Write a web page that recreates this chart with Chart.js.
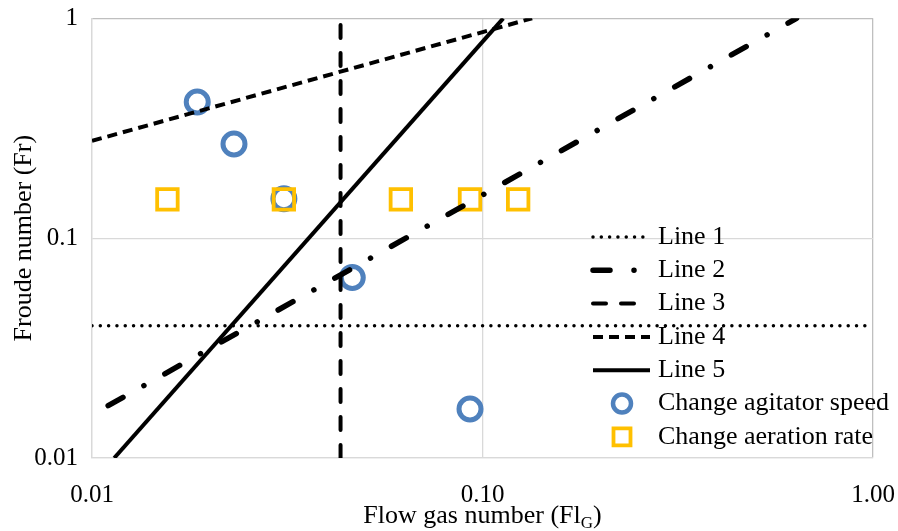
<!DOCTYPE html>
<html>
<head>
<meta charset="utf-8">
<script src="https://cdn.jsdelivr.net/npm/chart.js@4.4.1/dist/chart.umd.min.js"></script>
<style>
  html, body { margin: 0; padding: 0; background: #fff; }
  #wrap { width: 898px; height: 531px; }
</style>
</head>
<body>
<div id="wrap"><canvas id="frChart" width="898" height="531"></canvas></div>
<script>
// limit lines, end points only (Fl_G, Fr)
const line1Fl = [0.01, 1.0];
const line1Fr = [0.04, 0.04];
const line2Fl = [0.011, 0.637];
const line2Fr = [0.0173, 1.0];
const line3Fl = [0.0433, 0.0433];
const line3Fr = [0.01, 1.0];
const line4Fl = [0.01, 0.134];
const line4Fr = [0.277, 1.0];
const line5Fl = [0.0114, 0.113];
const line5Fr = [0.01, 1.0];

// measurements
const agitatorFl = [0.0186, 0.0231, 0.031, 0.0464, 0.0929];
const agitatorFr = [0.416, 0.268, 0.151, 0.0662, 0.0167];
const aerationFl = [0.0156, 0.031, 0.0618, 0.0929, 0.1234];
const aerationFr = [0.15, 0.15, 0.15, 0.15, 0.15];

const seriesNames = ['Line 1', 'Line 2', 'Line 3', 'Line 4', 'Line 5',
                     'Change agitator speed', 'Change aeration rate'];

const xTicks = [0.01, 0.1, 1];
const xTickLabels = ['0.01', '0.10', '1.00'];
const yTicks = [0.01, 0.1, 1];
const yTickLabels = ['0.01', '0.1', '1'];

const FONT = '"Liberation Serif", "Times New Roman", serif';
Chart.defaults.font.family = FONT;
Chart.defaults.color = '#000';

function pts(xs, ys) {
    return xs.map((x, i) => ({ x: x, y: ys[i] }));
}

function refLine(label, xs, ys, width, dash, cap) {
    return {
        label: label,
        data: pts(xs, ys),
        showLine: true,
        borderColor: '#000',
        borderWidth: width,
        borderDash: dash,
        borderCapStyle: cap,
        pointRadius: 0,
        pointHoverRadius: 0,
        fill: false,
        order: 0
    };
}

// legend drawn inside the plot, lower right
const insideLegend = {
    id: 'insideLegend',
    afterDraw(chart) {
        const ctx = chart.ctx;
        const x0 = 593, x1 = 650, mx = 622, tx = 658, y0 = 237, step = 33.3;
        ctx.save();
        ctx.font = '26px ' + FONT;
        ctx.textBaseline = 'middle';
        chart.data.datasets.forEach((ds, i) => {
            const y = y0 + i * step;
            ctx.beginPath();
            if (ds.showLine) {
                ctx.setLineDash(ds.borderDash || []);
                ctx.lineWidth = ds.borderWidth;
                ctx.lineCap = ds.borderCapStyle || 'butt';
                ctx.strokeStyle = ds.borderColor;
                ctx.moveTo(x0, y);
                ctx.lineTo(i === 2 ? 640 : x1, y);
                ctx.stroke();
            } else if (ds.pointStyle === 'circle') {
                ctx.setLineDash([]);
                ctx.lineWidth = 4.5;
                ctx.strokeStyle = ds.borderColor;
                ctx.arc(mx, y, 9, 0, Math.PI * 2);
                ctx.stroke();
            } else {
                ctx.setLineDash([]);
                ctx.lineWidth = 3.8;
                ctx.strokeStyle = ds.borderColor;
                ctx.rect(mx - 8.5, y - 8.5, 17, 17);
                ctx.stroke();
            }
            ctx.setLineDash([]);
            ctx.fillStyle = '#000';
            ctx.fillText(ds.label, tx, y);
        });
        ctx.restore();
    }
};

// x axis title with subscript G
const xTitle = {
    id: 'xTitle',
    afterDraw(chart) {
        const ctx = chart.ctx;
        const area = chart.chartArea;
        const main = 'Flow gas number (Fl', sub = 'G', close = ')';
        ctx.save();
        ctx.fillStyle = '#000';
        ctx.textBaseline = 'alphabetic';
        ctx.font = '26px ' + FONT;
        const w1 = ctx.measureText(main).width;
        const w3 = ctx.measureText(close).width;
        ctx.font = '17px ' + FONT;
        const w2 = ctx.measureText(sub).width;
        let x = (area.left + area.right) / 2 - (w1 + w2 + w3) / 2;
        const base = 523;
        ctx.font = '26px ' + FONT;
        ctx.fillText(main, x, base);
        x += w1;
        ctx.font = '17px ' + FONT;
        ctx.fillText(sub, x, base + 5);
        x += w2;
        ctx.font = '26px ' + FONT;
        ctx.fillText(close, x, base);
        ctx.restore();
    }
};

const gridColor = c => (c.tick && c.tick.value === 1 ? '#bfbfbf' : '#d9d9d9');

new Chart(document.getElementById('frChart').getContext('2d'), {
    type: 'scatter',
    data: {
        datasets: [
            refLine(seriesNames[0], line1Fl, line1Fr, 3.5, [0.01, 8.3], 'round'),
            refLine(seriesNames[1], line2Fl, line2Fr, 5.5, [17, 24, 0.01, 24], 'round'),
            refLine(seriesNames[2], line3Fl, line3Fr, 4, [13, 15], 'round'),
            refLine(seriesNames[3], line4Fl, line4Fr, 4, [10, 6], 'butt'),
            refLine(seriesNames[4], line5Fl, line5Fr, 4, [], 'butt'),
            {
                label: seriesNames[5],
                data: pts(agitatorFl, agitatorFr),
                pointStyle: 'circle',
                pointRadius: 11,
                pointHoverRadius: 11,
                pointBorderWidth: 5,
                borderColor: '#4f81bd',
                backgroundColor: 'rgba(0,0,0,0)',
                showLine: false,
                order: 2
            },
            {
                label: seriesNames[6],
                data: pts(aerationFl, aerationFr),
                pointStyle: 'rect',
                pointRadius: 14.5,
                pointHoverRadius: 14.5,
                pointBorderWidth: 3.8,
                borderColor: '#ffc000',
                backgroundColor: 'rgba(0,0,0,0)',
                showLine: false,
                order: 1
            }
        ]
    },
    options: {
        responsive: false,
        animation: false,
        devicePixelRatio: 1,
        layout: {
            padding: { top: 17, right: 25, left: 0, bottom: 0 }
        },
        plugins: {
            legend: { display: false },
            tooltip: { enabled: false }
        },
        scales: {
            x: {
                type: 'logarithmic',
                min: 0.01,
                max: 1,
                afterBuildTicks: scale => { scale.ticks = xTicks.map(v => ({ value: v })); },
                afterFit: scale => {
                    scale.height = 73;
                    scale.paddingLeft = 0;
                    scale.paddingRight = 0;
                },
                ticks: {
                    autoSkip: false,
                    maxRotation: 0,
                    padding: 22,
                    font: { size: 25 },
                    callback: (value, index) => xTickLabels[index]
                },
                grid: { color: gridColor, lineWidth: 1.3, drawTicks: false },
                border: { color: '#d9d9d9', width: 1.3 },
                title: { display: false }
            },
            y: {
                type: 'logarithmic',
                min: 0.01,
                max: 1,
                afterBuildTicks: scale => { scale.ticks = yTicks.map(v => ({ value: v })); },
                afterFit: scale => {
                    scale.width = 92;
                    scale.paddingTop = 0;
                    scale.paddingBottom = 0;
                },
                ticks: {
                    autoSkip: false,
                    padding: 14,
                    font: { size: 25 },
                    callback: (value, index) => yTickLabels[index]
                },
                grid: { color: gridColor, lineWidth: 1.3, drawTicks: false },
                border: { color: '#d9d9d9', width: 1.3 },
                title: {
                    display: true,
                    text: 'Froude number (Fr)',
                    font: { size: 26 },
                    padding: { top: 9, bottom: 0 }
                }
            }
        }
    },
    plugins: [insideLegend, xTitle]
});
</script>
</body>
</html>
